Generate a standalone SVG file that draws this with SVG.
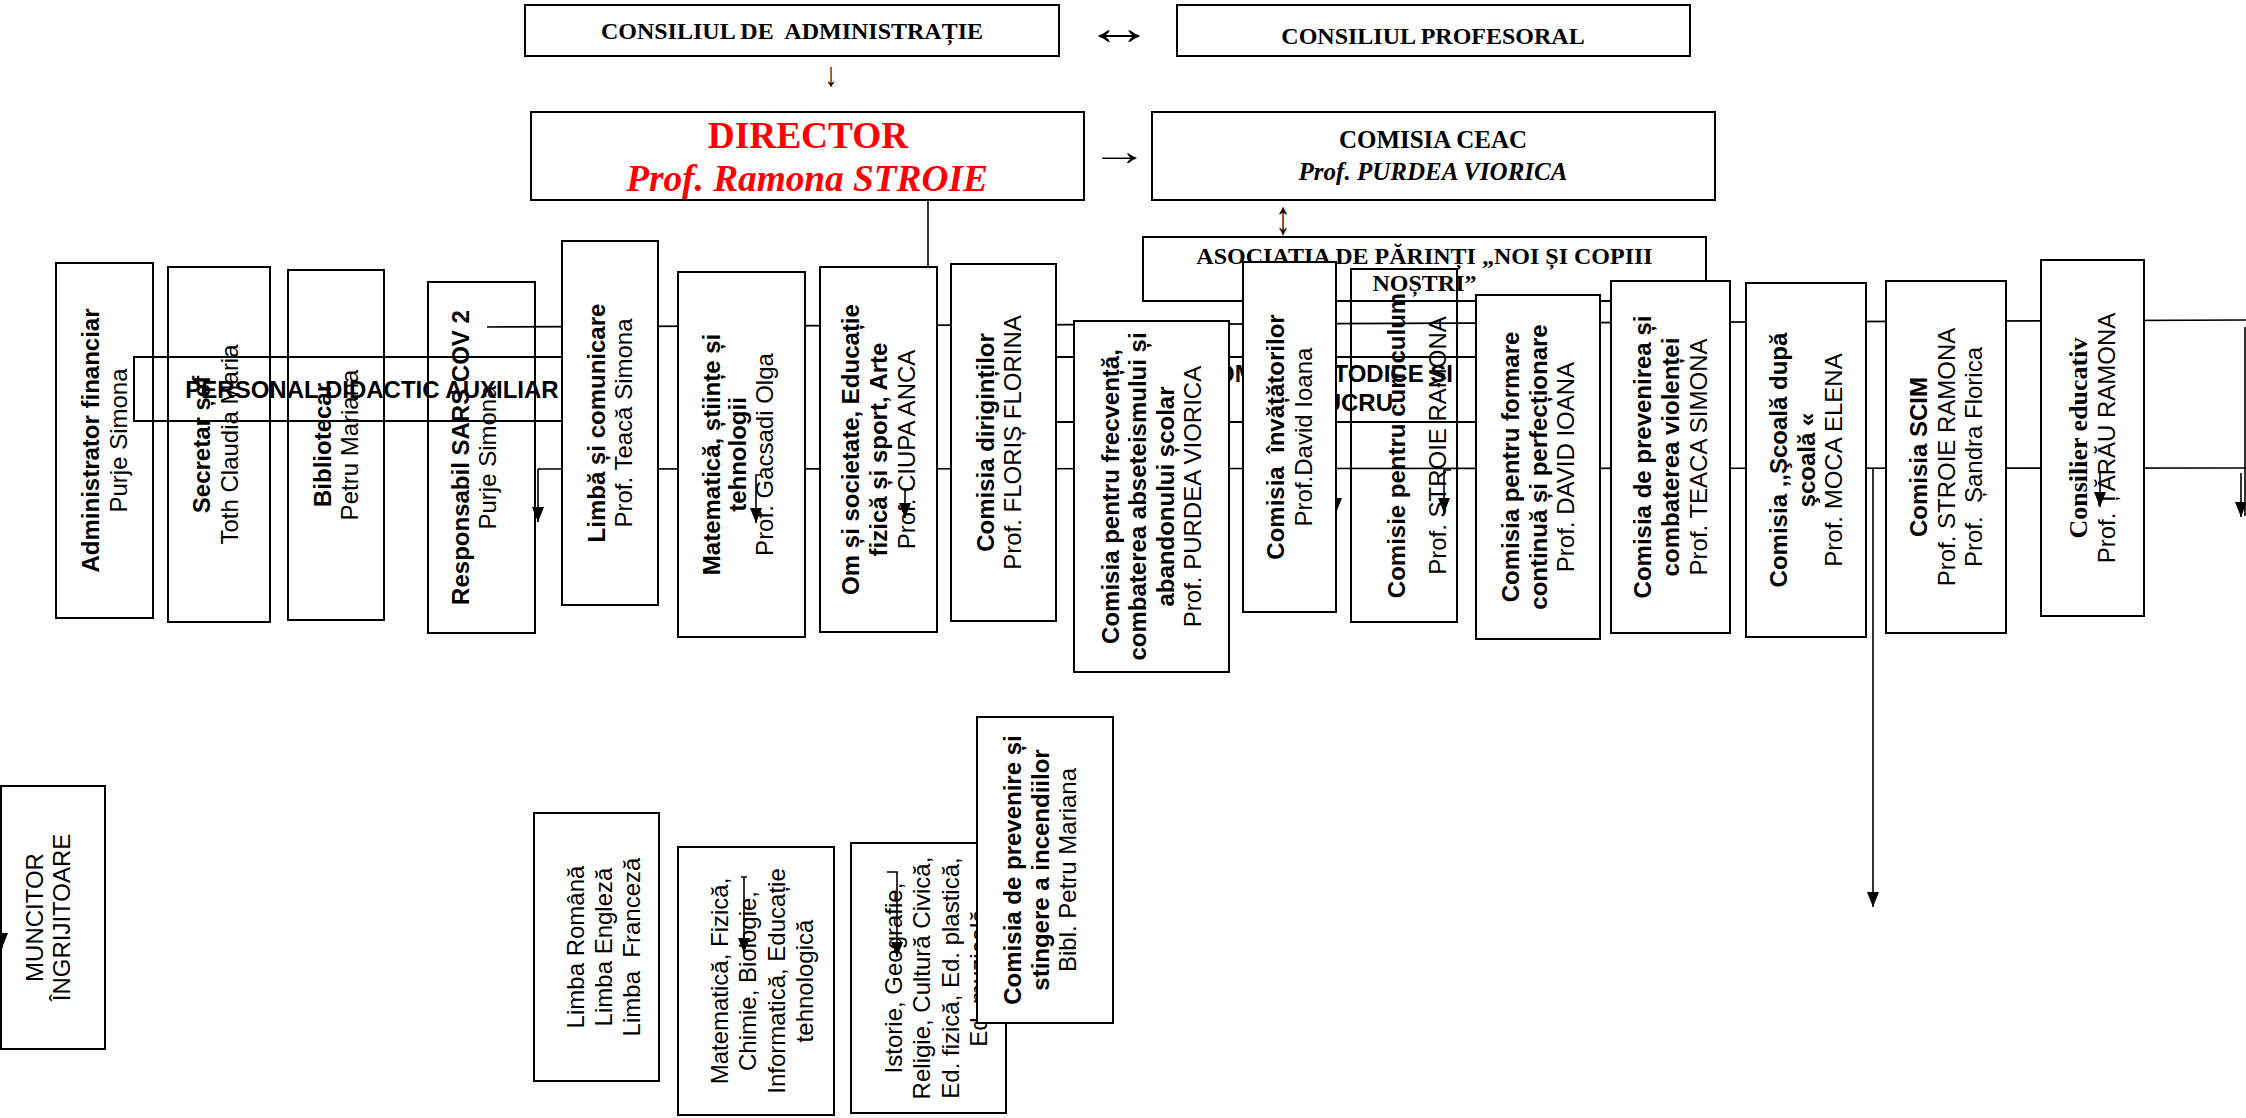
<svg xmlns="http://www.w3.org/2000/svg" width="2246" height="1118" viewBox="0 0 2246 1118">
<style>
.box{fill:#fff;stroke:#000;stroke-width:2}
.open{fill:none;stroke:#000;stroke-width:2}
.t{font-family:"Liberation Sans",Arial,sans-serif;font-size:24px;text-anchor:middle;fill:#000}
.b{font-weight:bold}
.tr{font-family:"Liberation Serif","Times New Roman",serif;font-weight:bold;text-anchor:middle;fill:#000}
.red{fill:#f00}
.ln{fill:none;stroke:#000;stroke-width:1.6}
.ar{fill:none;stroke:#000;stroke-width:1.6;marker-end:url(#ah)}
.sym{font-family:"Liberation Serif","DejaVu Serif",serif;text-anchor:middle;fill:#000}
</style>
<defs>
<marker id="ah" markerUnits="userSpaceOnUse" markerWidth="15" markerHeight="12" refX="15" refY="6" orient="auto" viewBox="0 0 15 12"><path d="M0,0 L15,6 L0,12 z" fill="#000"/></marker>
</defs>
<rect width="2246" height="1118" fill="#fff"/>

<g id="connectors-under">
<path class="ln" d="M487,327 L2246,320"/>
<path class="ln" d="M538,469 L2246,468"/>
<path class="ln" d="M928,200 V266"/>
<path class="ln" d="M2245,327 V516"/>
<path class="ar" d="M1873,469 V907"/>
<path class="ar" d="M538,469 V522"/>
<path class="ar" d="M2241,473 V517"/>
<path class="ar" d="M1336,470 V513"/>
<text class="sym" transform="translate(1119,44) scale(1.45,1)" font-size="48">↔</text>
<text class="sym" transform="translate(831,86) scale(1,1.3)" font-size="26">↓</text>
<text class="sym" transform="translate(1119.5,165) scale(1.45,1)" font-size="40">→</text>
<text class="sym" transform="translate(1283,234) scale(1,1.6)" font-size="30">↕</text>
</g>

<g id="consiliul-administratie"><rect class="box" x="525" y="5" width="534" height="51"/><text class="tr" x="792" y="39" font-size="24">CONSILIUL DE&#160; ADMINISTRAȚIE</text></g>
<g id="consiliul-profesoral"><rect class="box" x="1177" y="5" width="513" height="51"/><text class="tr" x="1433" y="44" font-size="24">CONSILIUL PROFESORAL</text></g>
<g id="director"><rect class="box" x="531" y="112" width="553" height="88"/><text class="tr red" x="808" y="148" font-size="37.3">DIRECTOR</text><text class="tr red" x="807" y="191" font-size="37.3" font-style="italic">Prof. Ramona STROIE</text></g>
<g id="comisia-ceac"><rect class="box" x="1152" y="112" width="563" height="88"/><text class="tr" x="1433" y="148" font-size="25">COMISIA CEAC</text><text class="tr" x="1433" y="180" font-size="25" font-style="italic">Prof. PURDEA VIORICA</text></g>
<g id="asociatia"><rect class="box" x="1143" y="237" width="563" height="64"/><text class="tr" x="1424.5" y="264" font-size="24">ASOCIATIA DE PĂRINȚI „NOI ȘI COPIII</text><text class="tr" x="1424.5" y="291" font-size="24">NOȘTRI”</text></g>

<g id="administrator"><rect class="box" x="56" y="263" width="97" height="355"/><text class="t" transform="translate(0,440.5) rotate(-90)"><tspan class="b" x="0" y="99.2">Administrator financiar</tspan><tspan x="0" y="126.8">Purje Simona</tspan></text></g>
<g id="secretar"><rect class="box" x="168" y="267" width="102" height="355"/><text class="t" transform="translate(0,444.5) rotate(-90)"><tspan class="b" x="0" y="210">Secretar șef</tspan><tspan x="0" y="238">Toth Claudia Maria</tspan></text></g>
<g id="bibliotecar"><rect class="box" x="288" y="270" width="96" height="350"/><text class="t" transform="translate(0,445) rotate(-90)"><tspan class="b" x="0" y="330.7">Bibliotecar</tspan><tspan x="0" y="358.3">Petru Mariana</tspan></text></g>
<g id="responsabil-sars"><rect class="open" x="428" y="282" width="107" height="351"/><text class="t" transform="translate(0,457.5) rotate(-90)"><tspan class="b" x="0" y="469">Responsabil SARS COV 2</tspan><tspan x="0" y="496">Purje Simona</tspan></text></g>
<g id="personal-auxiliar"><rect class="open" x="134" y="357" width="476" height="64"/><text class="t b" x="372" y="398">PERSONAL DIDACTIC AUXILIAR</text></g>
<g id="limba-comunicare"><rect class="box" x="562" y="241" width="96" height="364"/><text class="t" transform="translate(0,423) rotate(-90)"><tspan class="b" x="0" y="604.7">Limbă și comunicare</tspan><tspan x="0" y="632.3">Prof. Teacă Simona</tspan></text></g>
<g id="matematica-stiinte"><rect class="box" x="678" y="272" width="127" height="365"/><text class="t" transform="translate(0,454.5) rotate(-90)"><tspan class="b" x="0" y="720">Matematică, științe și</tspan><tspan class="b" x="0" y="746">tehnologii</tspan><tspan x="0" y="773">Prof. Gacsadi Olga</tspan></text></g>
<g id="om-societate"><rect class="box" x="820" y="267" width="117" height="365"/><text class="t" transform="translate(0,449.5) rotate(-90)"><tspan class="b" x="0" y="859.4">Om și societate, Educație</tspan><tspan class="b" x="0" y="887">fizică și sport, Arte</tspan><tspan x="0" y="914.6">Prof. CIUPA ANCA</tspan></text></g>
<g id="comisii-metodice"><rect class="box" x="1000" y="357" width="540" height="65"/><text class="t b" style="text-anchor:end"><tspan x="1453" y="382">COMISII METODICE ȘI</tspan><tspan x="1393" y="411">DE LUCRU</tspan></text></g>
<g id="comisia-dirigintilor"><rect class="box" x="951" y="264" width="105" height="357"/><text class="t" transform="translate(0,442.5) rotate(-90)"><tspan class="b" x="0" y="994">Comisia diriginților</tspan><tspan x="0" y="1021">Prof. FLORIȘ FLORINA</tspan></text></g>
<g id="comisia-frecventa"><rect class="box" x="1074" y="321" width="155" height="351"/><text class="t" transform="translate(0,496.5) rotate(-90)"><tspan class="b" x="0" y="1118.6">Comisia pentru frecvență,</tspan><tspan class="b" x="0" y="1146.2">combaterea abseteismului și</tspan><tspan class="b" x="0" y="1173.8">abandonului școlar</tspan><tspan x="0" y="1201.4">Prof. PURDEA VIORICA</tspan></text></g>
<g id="comisia-invatatorilor"><rect class="box" x="1243" y="262" width="93" height="350"/><text class="t" transform="translate(0,437) rotate(-90)"><tspan class="b" x="0" y="1284.2">Comisia&#160; învățătorilor</tspan><tspan x="0" y="1311.8">Prof.David Ioana</tspan></text></g>
<g id="comisie-curriculum"><rect class="open" x="1351" y="269" width="106" height="353"/><text class="t" transform="translate(0,445.5) rotate(-90)"><tspan class="b" x="0" y="1405">Comisie pentru curriculum</tspan><tspan x="0" y="1446">Prof. STROIE RAMONA</tspan></text></g>
<g id="comisia-formare"><rect class="box" x="1476" y="295" width="124" height="344"/><text class="t" transform="translate(0,467) rotate(-90)"><tspan class="b" x="0" y="1518.9">Comisia pentru formare</tspan><tspan class="b" x="0" y="1546.5">continuă și perfecționare</tspan><tspan x="0" y="1574.1">Prof. DAVID IOANA</tspan></text></g>
<g id="comisia-violenta"><rect class="box" x="1611" y="281" width="119" height="352"/><text class="t" transform="translate(0,457) rotate(-90)"><tspan class="b" x="0" y="1651.4">Comisia de prevenirea și</tspan><tspan class="b" x="0" y="1679">combaterea violenței</tspan><tspan x="0" y="1706.6">Prof. TEACA SIMONA</tspan></text></g>
<g id="comisia-scoala-dupa-scoala"><rect class="box" x="1746" y="283" width="120" height="354"/><text class="t" transform="translate(0,460) rotate(-90)"><tspan class="b" x="0" y="1786.9">Comisia ,,Şcoală după</tspan><tspan class="b" x="0" y="1814.5">şcoală «</tspan><tspan x="0" y="1842.1">Prof. MOCA ELENA</tspan></text></g>
<g id="comisia-scim"><rect class="box" x="1886" y="281" width="120" height="352"/><text class="t" transform="translate(0,457) rotate(-90)"><tspan class="b" x="0" y="1926.9">Comisia SCIM</tspan><tspan x="0" y="1954.5">Prof. STROIE RAMONA</tspan><tspan x="0" y="1982.1">Prof.&#160; Șandra Florica</tspan></text></g>
<g id="consilier-educativ"><rect class="box" x="2041" y="260" width="103" height="356"/><text transform="translate(0,438) rotate(-90)"><tspan class="tr" font-size="26" x="0" y="2087.2">Consilier educativ</tspan><tspan class="t" x="0" y="2114.8">Prof. ȚĂRĂU RAMONA</tspan></text></g>

<g id="muncitor"><rect class="box" x="1" y="786" width="104" height="263"/><text class="t" transform="translate(0,917.5) rotate(-90)"><tspan x="0" y="43">MUNCITOR</tspan><tspan x="0" y="70">ÎNGRIJITOARE</tspan></text></g>
<g id="limbi"><rect class="box" x="534" y="813" width="125" height="268"/><text class="t" transform="translate(0,947) rotate(-90)"><tspan x="0" y="584">Limba Română</tspan><tspan x="0" y="612">Limba Engleză</tspan><tspan x="0" y="640">Limba&#160; Franceză</tspan></text></g>
<g id="discipline-stiinte"><rect class="box" x="678" y="847" width="156" height="268"/><text class="t" transform="translate(0,981) rotate(-90)"><tspan x="0" y="728">Matematică, Fizică,</tspan><tspan x="0" y="756">Chimie, Biologie,</tspan><tspan x="0" y="785">Informatică, Educație</tspan><tspan x="0" y="813">tehnologică</tspan></text></g>
<g id="discipline-umaniste"><rect class="box" x="851" y="843" width="155" height="270"/><text class="t" transform="translate(0,978) rotate(-90)"><tspan x="0" y="902">Istorie, Geografie,</tspan><tspan x="0" y="930">Religie, Cultură Civică,</tspan><tspan x="0" y="959">Ed. fizică, Ed. plastică,</tspan><tspan x="0" y="987">Ed. muzicală</tspan></text></g>
<g id="comisia-incendii"><rect class="box" x="977" y="717" width="136" height="306"/><text class="t" transform="translate(0,870) rotate(-90)"><tspan class="b" x="0" y="1021">Comisia de prevenire și</tspan><tspan class="b" x="0" y="1048.5">stingere a incendiilor</tspan><tspan x="0" y="1076">Bibl. Petru Mariana</tspan></text></g>

<g id="connectors-over">
<path class="ar" d="M762,475 H756 V523"/>
<path class="ar" d="M913,489 H905 V518"/>
<path class="ar" d="M1451,470 H1444 V513"/>
<path class="ar" d="M2100,472 V507"/>
<path class="ar" d="M741,877 H747 M744,877 V953"/>
<path class="ar" d="M887,872 H897 V957"/>
<path class="ar" d="M2,933 V948"/>
</g>
</svg>
